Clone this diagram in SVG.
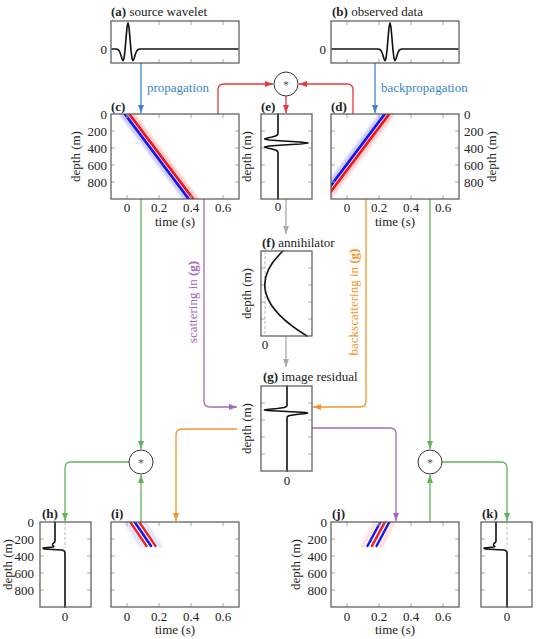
<svg xmlns="http://www.w3.org/2000/svg" width="536" height="639" viewBox="0 0 536 639">
<style>
text { font-family: "Liberation Serif", "DejaVu Serif", serif; font-size: 13px; fill: #222; }
.b { font-weight: bold; }
.mid { text-anchor: middle; }
.end { text-anchor: end; }
.box { fill: none; stroke: #555; stroke-width: 1.2; }
.tick { fill: none; stroke: #aaa; stroke-width: 1; }
.trace { fill: none; stroke: #111; stroke-width: 1.6; stroke-linejoin: round; stroke-linecap: round; }
.zero { stroke: #bbb; stroke-width: 1; stroke-dasharray: 3 2; }
.c { fill: none; stroke-width: 1.3; }
.blue { stroke: #3d85c6; }
.red { stroke: #e8383d; }
.green { stroke: #5fb55a; }
.purple { stroke: #a469b8; }
.orange { stroke: #f0962a; }
.gray { stroke: #aaa; }
.op { fill: #fff; stroke: #333; stroke-width: 1; }
.star { fill: #555; font-size: 12px; }
</style>
<defs>
<marker id="aBlue" viewBox="0 0 8 6" refX="8" refY="3" markerWidth="8" markerHeight="6" markerUnits="userSpaceOnUse" orient="auto"><path d="M0,0 L8,3 L0,6 z" fill="#3d85c6"/></marker>
<marker id="aRed" viewBox="0 0 8 6" refX="8" refY="3" markerWidth="8" markerHeight="6" markerUnits="userSpaceOnUse" orient="auto"><path d="M0,0 L8,3 L0,6 z" fill="#e8383d"/></marker>
<marker id="aGreen" viewBox="0 0 8 6" refX="8" refY="3" markerWidth="8" markerHeight="6" markerUnits="userSpaceOnUse" orient="auto"><path d="M0,0 L8,3 L0,6 z" fill="#5fb55a"/></marker>
<marker id="aPurple" viewBox="0 0 8 6" refX="8" refY="3" markerWidth="8" markerHeight="6" markerUnits="userSpaceOnUse" orient="auto"><path d="M0,0 L8,3 L0,6 z" fill="#a469b8"/></marker>
<marker id="aOrange" viewBox="0 0 8 6" refX="8" refY="3" markerWidth="8" markerHeight="6" markerUnits="userSpaceOnUse" orient="auto"><path d="M0,0 L8,3 L0,6 z" fill="#f0962a"/></marker>
<marker id="aGray" viewBox="0 0 8 6" refX="8" refY="3" markerWidth="8" markerHeight="6" markerUnits="userSpaceOnUse" orient="auto"><path d="M0,0 L8,3 L0,6 z" fill="#aaa"/></marker>
<clipPath id="clipC"><rect x="111" y="114" width="128" height="85"/></clipPath>
<clipPath id="clipD"><rect x="331" y="114" width="128" height="85"/></clipPath>
<clipPath id="clipI"><rect x="111" y="522" width="128" height="85"/></clipPath>
<clipPath id="clipJ"><rect x="331" y="522" width="128" height="85"/></clipPath>
<filter id="soft" x="-20%" y="-20%" width="140%" height="140%"><feGaussianBlur stdDeviation="0.6"/></filter>
<filter id="soft2" x="-20%" y="-20%" width="140%" height="140%"><feGaussianBlur stdDeviation="1"/></filter>
</defs>

<rect width="536" height="639" fill="#fff"/>

<!-- connectors -->
<g id="connectors">
  <path class="c blue" d="M141,63 V113" marker-end="url(#aBlue)"/>
  <path class="c blue" d="M375,63 V113" marker-end="url(#aBlue)"/>
  <path class="c red" d="M218,114 V90 Q218,84 224,84 H273" marker-end="url(#aRed)"/>
  <path class="c red" d="M353,114 V90 Q353,84 347,84 H299" marker-end="url(#aRed)"/>
  <path class="c red" d="M286,96 V113" marker-end="url(#aRed)"/>
  <path class="c gray" d="M286,199 V234" marker-end="url(#aGray)"/>
  <path class="c gray" d="M286,336 V367" marker-end="url(#aGray)"/>
  <path class="c purple" d="M204,199 V401 Q204,407 210,407 H237" marker-end="url(#aPurple)"/>
  <path class="c orange" d="M366,199 V401 Q366,407 360,407 H313" marker-end="url(#aOrange)"/>
  <path class="c green" d="M141,199 V449" marker-end="url(#aGreen)"/>
  <path class="c green" d="M129,462 H71 Q65,462 65,468 V521" marker-end="url(#aGreen)"/>
  <path class="c green" d="M141,522 V475" marker-end="url(#aGreen)"/>
  <path class="c green" d="M430,199 V449" marker-end="url(#aGreen)"/>
  <path class="c green" d="M442,462 H501 Q507,462 507,468 V521" marker-end="url(#aGreen)"/>
  <path class="c green" d="M430,522 V475" marker-end="url(#aGreen)"/>
  <path class="c orange" d="M237,429 H182 Q176,429 176,435 V521" marker-end="url(#aOrange)"/>
  <path class="c purple" d="M312,428 H390 Q396,428 396,434 V521" marker-end="url(#aPurple)"/>
  <text x="147" y="92" style="fill:#3d85c6">propagation</text>
  <text x="381" y="92" style="fill:#3d85c6">backpropagation</text>
  <text transform="translate(197,302) rotate(-90)" class="mid" style="fill:#a469b8">scattering in <tspan class="b">(g)</tspan></text>
  <text transform="translate(358,302) rotate(-90)" class="mid" style="fill:#f0962a">backscattering in <tspan class="b">(g)</tspan></text>
</g>

<!-- operators -->
<g id="conv-top">
  <circle class="op" cx="286" cy="84" r="12"/>
  <text x="286" y="89" class="mid star">*</text>
</g>
<g id="conv-left">
  <circle class="op" cx="141" cy="462" r="12"/>
  <text x="141" y="467" class="mid star">*</text>
</g>
<g id="conv-right">
  <circle class="op" cx="430" cy="462" r="12"/>
  <text x="430" y="467" class="mid star">*</text>
</g>

<!-- (a) -->
<g id="panel-a">
  <text x="111" y="16"><tspan class="b">(a)</tspan> source wavelet</text>
  <path class="tick" d="M159,21v4M191,21v4M223,21v4M159,63v-4M191,63v-4M223,63v-4"/>
  <polyline class="trace" points="112,49 116,49 117,49.2 118,49.6 119,50.6 120,52.5 121,55.5 122,58.8 123,60.6 124,58.4 125,50.5 126,38.6 127,27.5 128,23 129,27.5 130,38.6 131,50.5 132,58.4 133,60.6 134,58.8 135,55.5 136,52.5 137,50.6 138,49.6 139,49.2 140,49 238,49"/>
  <rect class="box" x="111" y="21" width="128" height="42"/>
  <text x="107" y="53.5" class="end">0</text>
</g>

<!-- (b) -->
<g id="panel-b">
  <text x="332" y="16"><tspan class="b">(b)</tspan> observed data</text>
  <path class="tick" d="M347,21v4M379,21v4M411,21v4M443,21v4M347,63v-4M379,63v-4M411,63v-4M443,63v-4"/>
  <polyline class="trace" points="332,49 378,49 379,49.2 380,49.6 381,50.6 382,52.5 383,55.5 384,58.8 385,60.6 386,58.4 387,50.5 388,38.6 389,27.5 390,23 391,27.5 392,38.6 393,50.5 394,58.4 395,60.6 396,58.8 397,55.5 398,52.5 399,50.6 400,49.6 401,49.2 402,49 458,49"/>
  <rect class="box" x="331" y="21" width="128" height="42"/>
  <text x="326" y="53.5" class="end">0</text>
</g>

<!-- (c) -->
<g id="panel-c">
  <text x="111" y="111" class="b">(c)</text>
  <g clip-path="url(#clipC)">
    <g filter="url(#soft2)" opacity="0.4">
      <line x1="129.8" y1="110" x2="199.8" y2="203" stroke="#ff7070" stroke-width="3.5"/>
      <line x1="118.2" y1="110" x2="188.2" y2="203" stroke="#7070ff" stroke-width="3.5"/>
    </g>
    <g filter="url(#soft)">
      <line x1="126.2" y1="110" x2="196.2" y2="203" stroke="#f01818" stroke-width="2.8"/>
      <line x1="121.8" y1="110" x2="191.8" y2="203" stroke="#1818f0" stroke-width="2.8"/>
    </g>
  </g>
  <path class="tick" d="M127,114v4M159,114v4M191,114v4M223,114v4M127,199v-4M159,199v-4M191,199v-4M223,199v-4M111,131h4M111,148h4M111,165h4M111,182h4M239,131h-4M239,148h-4M239,165h-4M239,182h-4"/>
  <rect class="box" x="111" y="114" width="128" height="85"/>
  <text x="107" y="118.5" class="end">0</text>
  <text x="107" y="135.5" class="end">200</text>
  <text x="107" y="152.5" class="end">400</text>
  <text x="107" y="169.5" class="end">600</text>
  <text x="107" y="186.5" class="end">800</text>
  <text transform="translate(80,156.5) rotate(-90)" class="mid">depth (m)</text>
  <text x="127" y="212" class="mid">0</text>
  <text x="159" y="212" class="mid">0.2</text>
  <text x="191" y="212" class="mid">0.4</text>
  <text x="223" y="212" class="mid">0.6</text>
  <text x="175" y="226" class="mid">time (s)</text>
</g>

<!-- (e) -->
<g id="panel-e">
  <text x="261" y="111" class="b">(e)</text>
  <path class="tick" d="M261,131h4M261,148h4M261,165h4M261,182h4M312,131h-4M312,148h-4M312,165h-4M312,182h-4"/>
  <polyline class="trace" points="278,114 278,133 277.8,134 277.2,135 275.5,136 272.1,137 267.4,138 264.6,139 269.1,140 283.2,141 300.2,142 308,143 300.2,144 283.2,145 269.1,146 264.6,147 267.4,148 272.1,149 275.5,150 277.2,151 277.8,152 278,153 278,199"/>
  <rect class="box" x="261" y="114" width="51" height="85"/>
  <text transform="translate(251,156.5) rotate(-90)" class="mid">depth (m)</text>
  <text x="278" y="211" class="mid">0</text>
</g>

<!-- (d) -->
<g id="panel-d">
  <text x="331" y="111" class="b">(d)</text>
  <g clip-path="url(#clipD)">
    <g filter="url(#soft2)" opacity="0.4">
      <line x1="395.8" y1="110" x2="325.8" y2="203" stroke="#ff7070" stroke-width="3.5"/>
      <line x1="384.2" y1="110" x2="314.2" y2="203" stroke="#7070ff" stroke-width="3.5"/>
    </g>
    <g filter="url(#soft)">
      <line x1="392.2" y1="110" x2="322.2" y2="203" stroke="#f01818" stroke-width="2.8"/>
      <line x1="387.8" y1="110" x2="317.8" y2="203" stroke="#1818f0" stroke-width="2.8"/>
    </g>
  </g>
  <path class="tick" d="M347,114v4M379,114v4M411,114v4M443,114v4M347,199v-4M379,199v-4M411,199v-4M443,199v-4M331,131h4M331,148h4M331,165h4M331,182h4M459,131h-4M459,148h-4M459,165h-4M459,182h-4"/>
  <rect class="box" x="331" y="114" width="128" height="85"/>
  <text x="464" y="118.5">0</text>
  <text x="464" y="135.5">200</text>
  <text x="464" y="152.5">400</text>
  <text x="464" y="169.5">600</text>
  <text x="464" y="186.5">800</text>
  <text transform="translate(496,156.5) rotate(-90)" class="mid">depth (m)</text>
  <text x="347" y="212" class="mid">0</text>
  <text x="379" y="212" class="mid">0.2</text>
  <text x="411" y="212" class="mid">0.4</text>
  <text x="443" y="212" class="mid">0.6</text>
  <text x="395" y="226" class="mid">time (s)</text>
</g>

<!-- (f) -->
<g id="panel-f">
  <text x="262" y="247"><tspan class="b">(f)</tspan> annihilator</text>
  <line class="zero" x1="265" y1="251" x2="265" y2="336"/>
  <path class="tick" d="M261,268h4M261,285h4M261,302h4M261,319h4M312,268h-4M312,285h-4M312,302h-4M312,319h-4"/>
  <path class="trace" d="M283,251 Q237,293.5 307,336"/>
  <rect class="box" x="261" y="251" width="51" height="85"/>
  <text transform="translate(251,293.5) rotate(-90)" class="mid">depth (m)</text>
  <text x="265" y="349" class="mid">0</text>
</g>

<!-- (g) -->
<g id="panel-g">
  <text x="263" y="381"><tspan class="b">(g)</tspan> image residual</text>
  <path class="tick" d="M261,403h4M261,420h4M261,437h4M261,454h4M312,403h-4M312,420h-4M312,437h-4M312,454h-4"/>
  <polyline class="trace" points="287,386 287,405.5 286.5,406.5 284.2,407.5 277.2,408.5 267.1,409.5 264.5,410 267.6,410.5 287,411.5 305.4,412.5 307.5,413 305.9,413.5 296.3,414.5 289.6,415.5 287.4,416.5 287,417.5 287,471"/>
  <rect class="box" x="261" y="386" width="51" height="85"/>
  <text transform="translate(251,428.5) rotate(-90)" class="mid">depth (m)</text>
  <text x="287" y="485" class="mid">0</text>
</g>

<!-- (h) -->
<g id="panel-h">
  <text x="42" y="518" class="b">(h)</text>
  <line class="zero" x1="65" y1="522" x2="65" y2="548"/>
  <path class="tick" d="M40,539h4M40,556h4M40,573h4M40,590h4M91,539h-4M91,556h-4M91,573h-4M91,590h-4"/>
  <path class="trace" d="M55,522 L55,541 C55,543 52,543.5 52.5,545 C53,546 55,546.5 53,547 L43,548 L44,549 L62,550 C64,550.3 65,551 65,553 L65,607"/>
  <rect class="box" x="40" y="522" width="51" height="85"/>
  <text x="34" y="526.5" class="end">0</text>
  <text x="34" y="543.5" class="end">200</text>
  <text x="34" y="560.5" class="end">400</text>
  <text x="34" y="577.5" class="end">600</text>
  <text x="34" y="594.5" class="end">800</text>
  <text transform="translate(12,564.5) rotate(-90)" class="mid">depth (m)</text>
  <text x="65" y="621" class="mid">0</text>
</g>

<!-- (i) -->
<g id="panel-i">
  <text x="111" y="518" class="b">(i)</text>
  <g clip-path="url(#clipI)">
    <g filter="url(#soft2)" opacity="0.3">
      <line x1="123" y1="518" x2="142" y2="546" stroke="#9090ff" stroke-width="4" stroke-linecap="round"/>
      <line x1="141" y1="518" x2="160" y2="546" stroke="#9090ff" stroke-width="4" stroke-linecap="round"/>
    </g>
    <g filter="url(#soft)">
      <line x1="127.5" y1="518" x2="146.5" y2="546" stroke="#f02020" stroke-width="2.4" stroke-linecap="round"/>
      <line x1="132" y1="518" x2="151" y2="546" stroke="#1818f0" stroke-width="2.6" stroke-linecap="round"/>
      <line x1="136.5" y1="518" x2="155.5" y2="546" stroke="#f02020" stroke-width="2.4" stroke-linecap="round"/>
    </g>
  </g>
  <path class="tick" d="M127,522v4M159,522v4M191,522v4M223,522v4M127,607v-4M159,607v-4M191,607v-4M223,607v-4M111,539h4M111,556h4M111,573h4M111,590h4M239,539h-4M239,556h-4M239,573h-4M239,590h-4"/>
  <rect class="box" x="111" y="522" width="128" height="85"/>
  <text x="127" y="621" class="mid">0</text>
  <text x="159" y="621" class="mid">0.2</text>
  <text x="191" y="621" class="mid">0.4</text>
  <text x="223" y="621" class="mid">0.6</text>
  <text x="175" y="634" class="mid">time (s)</text>
</g>

<!-- (j) -->
<g id="panel-j">
  <text x="332" y="518" class="b">(j)</text>
  <g clip-path="url(#clipJ)">
    <g filter="url(#soft2)" opacity="0.3">
      <line x1="378" y1="518" x2="363" y2="546" stroke="#ff9090" stroke-width="4" stroke-linecap="round"/>
      <line x1="396" y1="518" x2="381" y2="546" stroke="#ff9090" stroke-width="4" stroke-linecap="round"/>
    </g>
    <g filter="url(#soft)">
      <line x1="382.5" y1="518" x2="367.5" y2="546" stroke="#1818f0" stroke-width="2.4" stroke-linecap="round"/>
      <line x1="387" y1="518" x2="372" y2="546" stroke="#f02020" stroke-width="2.6" stroke-linecap="round"/>
      <line x1="391.5" y1="518" x2="376.5" y2="546" stroke="#1818f0" stroke-width="2.4" stroke-linecap="round"/>
    </g>
  </g>
  <path class="tick" d="M347,522v4M379,522v4M411,522v4M443,522v4M347,607v-4M379,607v-4M411,607v-4M443,607v-4M331,539h4M331,556h4M331,573h4M331,590h4M459,539h-4M459,556h-4M459,573h-4M459,590h-4"/>
  <rect class="box" x="331" y="522" width="128" height="85"/>
  <text x="327" y="526.5" class="end">0</text>
  <text x="327" y="543.5" class="end">200</text>
  <text x="327" y="560.5" class="end">400</text>
  <text x="327" y="577.5" class="end">600</text>
  <text x="327" y="594.5" class="end">800</text>
  <text transform="translate(300,564.5) rotate(-90)" class="mid">depth (m)</text>
  <text x="347" y="621" class="mid">0</text>
  <text x="379" y="621" class="mid">0.2</text>
  <text x="411" y="621" class="mid">0.4</text>
  <text x="443" y="621" class="mid">0.6</text>
  <text x="395" y="634" class="mid">time (s)</text>
</g>

<!-- (k) -->
<g id="panel-k">
  <text x="482" y="518" class="b">(k)</text>
  <line class="zero" x1="507" y1="522" x2="507" y2="548"/>
  <path class="tick" d="M481,539h4M481,556h4M481,573h4M481,590h4M532,539h-4M532,556h-4M532,573h-4M532,590h-4"/>
  <path class="trace" d="M496,522 L496,541 C496,543 493,543.5 493.5,545 C494,546 496,546.5 494,547 L484,548 L485,549 L504,550 C506,550.3 507,551 507,553 L507,607"/>
  <rect class="box" x="481" y="522" width="51" height="85"/>
  <text x="507" y="621" class="mid">0</text>
</g>
</svg>
